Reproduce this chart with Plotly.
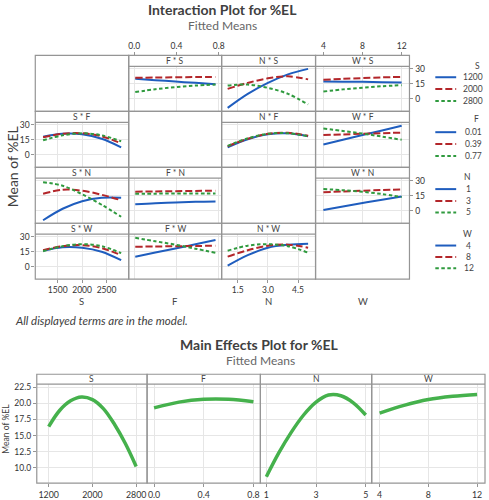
import plotly.graph_objects as go

W_PX, H_PX = 489, 500


def px(x):
    return x / W_PX


def py(y):
    return 1 - y / H_PX


# ---------------- data ----------------
FACTORS = ["S", "F", "N", "W"]
S_levels = ["1200", "2000", "2800"]
F_levels = ["0.01", "0.39", "0.77"]
N_levels = ["1", "3", "5"]
W_levels = ["4", "8", "12"]

S_x = [1200, 1600, 2000, 2400, 2800]
F_x = [0.01, 0.20, 0.39, 0.58, 0.77]
N_x = [1, 2, 3, 4, 5]
W_x = [4, 6, 8, 10, 12]

# interaction fitted means: <x factor>_by_<legend factor>
F_by_S = {"1200": [20.0, 18.7, 17.3, 16.0, 14.5],
          "2000": [21.0, 21.3, 21.6, 21.8, 21.9],
          "2800": [6.8, 9.6, 11.8, 13.3, 14.3]}
N_by_S = {"1200": [-9.0, 5.0, 16.0, 24.5, 30.0],
          "2000": [10.0, 16.0, 20.5, 22.5, 19.5],
          "2800": [13.3, 14.3, 11.0, 5.0, -5.5]}
W_by_S = {"1200": [17.3, 17.2, 17.0, 16.7, 16.3],
          "2000": [19.0, 20.0, 20.8, 21.5, 22.0],
          "2800": [7.3, 9.5, 11.2, 12.6, 13.7]}

S_by_F = {"0.01": [18.0, 21.0, 20.5, 16.0, 7.5],
          "0.39": [17.5, 21.0, 21.5, 18.5, 11.5],
          "0.77": [14.5, 19.5, 21.5, 19.5, 13.5]}
N_by_F = {"0.01": [7.5, 15.5, 20.5, 21.5, 18.5],
          "0.39": [8.5, 16.0, 21.0, 22.0, 19.0],
          "0.77": [9.0, 16.5, 21.0, 21.5, 18.5]}
W_by_F = {"0.01": [10.3, 15.0, 19.7, 24.3, 29.0],
          "0.39": [19.7, 20.4, 21.0, 21.6, 22.2],
          "0.77": [26.2, 23.8, 21.2, 18.2, 15.0]}

S_by_N = {"1": [-9.5, 2.0, 9.5, 13.0, 13.0],
          "3": [17.0, 21.0, 20.0, 16.0, 10.5],
          "5": [28.5, 25.0, 16.5, 6.0, -6.0]}
F_by_N = {"1": [6.4, 7.5, 8.3, 8.9, 9.2],
          "3": [19.0, 19.3, 19.6, 19.8, 20.0],
          "5": [17.0, 17.1, 17.2, 17.2, 17.2]}
W_by_N = {"1": [0.7, 4.3, 7.8, 11.1, 14.3],
          "3": [18.5, 19.3, 20.0, 20.7, 21.4],
          "5": [21.7, 20.5, 19.0, 16.7, 13.7]}

S_by_W = {"4": [16.0, 19.5, 19.0, 15.0, 6.5],
          "8": [16.5, 20.5, 21.5, 18.5, 11.5],
          "12": [15.5, 20.5, 22.5, 20.5, 13.5]}
F_by_W = {"4": [9.9, 14.1, 18.2, 22.4, 26.6],
          "8": [19.9, 20.2, 20.4, 20.7, 20.9],
          "12": [28.8, 25.4, 22.0, 18.0, 13.8]}
N_by_W = {"4": [1.0, 11.5, 19.0, 22.0, 23.0],
          "8": [10.0, 16.5, 21.0, 22.0, 19.0],
          "12": [16.0, 21.0, 22.5, 20.5, 14.0]}

# main effects fitted means
ME_S_x = [1200, 1400, 1600, 1800, 2000, 2200, 2400, 2600, 2800]
ME_S_y = [16.4, 18.9, 20.4, 21.0, 20.6, 19.2, 16.8, 13.8, 10.2]
ME_F_x = [0.0, 0.2, 0.4, 0.6, 0.8]
ME_F_y = [19.3, 20.2, 20.65, 20.65, 20.25]
ME_N_x = [1, 1.5, 2, 2.5, 3, 3.5, 4, 4.5, 5]
ME_N_y = [8.6, 12.3, 15.5, 18.2, 20.2, 21.3, 21.2, 20.1, 18.2]
ME_W_x = [4, 6, 8, 10, 12]
ME_W_y = [18.5, 19.7, 20.6, 21.1, 21.4]

# ---------------- lookup ----------------
LEVELS = {"S": S_levels, "F": F_levels, "N": N_levels, "W": W_levels}
X_GRID = {"S": S_x, "F": F_x, "N": N_x, "W": W_x}
PANELS = {
    ("F", "S"): F_by_S, ("N", "S"): N_by_S, ("W", "S"): W_by_S,
    ("S", "F"): S_by_F, ("N", "F"): N_by_F, ("W", "F"): W_by_F,
    ("S", "N"): S_by_N, ("F", "N"): F_by_N, ("W", "N"): W_by_N,
    ("S", "W"): S_by_W, ("F", "W"): F_by_W, ("N", "W"): N_by_W,
}
ME = {"S": (ME_S_x, ME_S_y), "F": (ME_F_x, ME_F_y),
      "N": (ME_N_x, ME_N_y), "W": (ME_W_x, ME_W_y)}

X_RANGE = {"S": [1040, 2955], "F": [-0.052, 0.828], "N": [0.7, 5.37], "W": [3.2, 12.8]}
X_TICKS = {"S": ([1500, 2000, 2500], ["1500", "2000", "2500"]),
           "F": ([0, 0.4, 0.8], ["0.0", "0.4", "0.8"]),
           "N": ([1.5, 3.0, 4.5], ["1.5", "3.0", "4.5"]),
           "W": ([4, 8, 12], ["4", "8", "12"])}
ME_RANGE = {"S": [982, 3000], "F": [-0.056, 0.856], "N": [0.76, 5.24], "W": [3.35, 12.65]}
ME_TICKS = {"S": ([1200, 2000, 2800], ["1200", "2000", "2800"]),
            "F": ([0, 0.4, 0.8], ["0.0", "0.4", "0.8"]),
            "N": ([1, 3, 5], ["1", "3", "5"]),
            "W": ([4, 8, 12], ["4", "8", "12"])}

# ---------------- styles ----------------
FONT = "Lato"
TXT = "#333333"
FRAME = "#959595"
GRID = "#e6e6e6"
BLUE, RED, GREEN = "#1F5DBE", "#B3262A", "#2F9A3E"
ME_GREEN = "#45B14C"
STYLES = [(BLUE, "solid"), (RED, "7px,3px"), (GREEN, "3.5px,2.5px")]

COL_X = [35.5, 129.5, 223, 317.5, 412]
ROW_Y = [54, 110.5, 167, 223.5, 280]
STRIP = 11
ME_COL = [37, 148, 262, 374, 488]
ME_TOP, ME_STRIP, ME_BOT = 376, 386, 486

fig = go.Figure()
shapes, annotations, layout_axes = [], [], {}


def frame_rect(x0, y0, x1, y1):
    shapes.append(dict(type="rect", xref="paper", yref="paper",
                       x0=px(x0), x1=px(x1), y0=py(y1), y1=py(y0),
                       line=dict(color=FRAME, width=1.2), layer="above"))


def hline(x0, x1, y):
    shapes.append(dict(type="line", xref="paper", yref="paper",
                       x0=px(x0), x1=px(x1), y0=py(y), y1=py(y),
                       line=dict(color=FRAME, width=1.2), layer="above"))


def text(x, y, s, size, color=TXT, xanchor="center", angle=0, italic=False):
    annotations.append(dict(xref="paper", yref="paper", x=px(x), y=py(y),
                            text=s, showarrow=False, xanchor=xanchor, yanchor="middle",
                            textangle=angle,
                            font=dict(family=FONT, size=size, color=color,
                                      style="italic" if italic else "normal")))


def axname(k, letter):
    return f"{letter}axis" if k == 1 else f"{letter}axis{k}"


def ref(k, letter):
    return letter if k == 1 else f"{letter}{k}"


k = 0
for r, lf in enumerate(FACTORS):
    for c, xf in enumerate(FACTORS):
        x0, x1 = COL_X[c], COL_X[c + 1]
        y0, y1 = ROW_Y[r], ROW_Y[r + 1]
        frame_rect(x0, y0, x1, y1)
        if r == c:
            continue
        k += 1
        top = y0 + STRIP
        hline(x0, x1, top)
        text((x0 + x1) / 2, y0 + STRIP / 2, f"{xf} * {lf}", 8.5, color="#444444")
        tv, tt = X_TICKS[xf]
        xa = dict(domain=[px(x0), px(x1)], range=X_RANGE[xf], tickvals=tv, ticktext=tt,
                  showgrid=True, gridcolor=GRID, gridwidth=1, zeroline=False,
                  showline=False, ticks="", showticklabels=False,
                  anchor=ref(k, "y"), fixedrange=True,
                  tickfont=dict(family=FONT, size=8.5, color=TXT))
        if xf in ("S", "N") and r == 3:
            xa.update(showticklabels=True, ticks="outside", ticklen=3, tickcolor=FRAME)
        if xf in ("F", "W") and r == 0:
            xa.update(showticklabels=True, ticks="outside", ticklen=3, tickcolor=FRAME,
                      side="top", anchor="free", position=py(ROW_Y[0]))
        ya = dict(domain=[py(y1), py(top)], range=[-12.5, 32.5], tickvals=[0, 15, 30],
                  showgrid=True, gridcolor=GRID, gridwidth=1, zeroline=False,
                  showline=False, ticks="", showticklabels=False,
                  anchor=ref(k, "x"), fixedrange=True,
                  tickfont=dict(family=FONT, size=8.5, color=TXT))
        if lf in ("F", "W") and c == 0:
            ya.update(showticklabels=True, ticks="outside", ticklen=3, tickcolor=FRAME)
        if lf in ("S", "N") and c == 3:
            ya.update(showticklabels=True, ticks="outside", ticklen=3, tickcolor=FRAME,
                      side="right")
        layout_axes[axname(k, "x")] = xa
        layout_axes[axname(k, "y")] = ya
        data = PANELS[(xf, lf)]
        for i, lev in enumerate(LEVELS[lf]):
            col, dash = STYLES[i]
            fig.add_trace(go.Scatter(
                x=X_GRID[xf], y=data[lev], mode="lines",
                line=dict(color=col, dash=dash, width=2, shape="spline", smoothing=1),
                xaxis=ref(k, "x"), yaxis=ref(k, "y"), showlegend=False,
                hoverinfo="skip"))

# axis titles of interaction plot
for c, f in enumerate(FACTORS):
    text((COL_X[c] + COL_X[c + 1]) / 2, 303, f, 9.5, color="#444444")

# legends (manual, Minitab style)
LEG = [("S", 65, [76, 88, 100], 480, 476),
       ("F", 118, [131.5, 143.5, 155.5], 479, 476),
       ("N", 177, [189, 201, 212.5], 470, 471.5),
       ("W", 234, [246, 257.5, 269], 470, 471.5)]
for f, ty, ys, tx, lx in LEG:
    text(tx, ty, f, 8.5, color="#444444")
    for i, lev in enumerate(LEVELS[f]):
        col, dash = STYLES[i]
        shapes.append(dict(type="line", xref="paper", yref="paper",
                           x0=px(438), x1=px(459), y0=py(ys[i]), y1=py(ys[i]),
                           line=dict(color=col, width=2, dash=dash)))
        text(lx, ys[i], lev, 8.5, color="#444444")

# main effects
for c, f in enumerate(FACTORS):
    k += 1
    x0, x1 = ME_COL[c], ME_COL[c + 1]
    frame_rect(x0, ME_TOP, x1, ME_BOT)
    hline(x0, x1, ME_STRIP)
    text((x0 + x1) / 2, (ME_TOP + ME_STRIP) / 2, f, 8.5, color="#444444")
    tv, tt = ME_TICKS[f]
    layout_axes[axname(k, "x")] = dict(
        domain=[px(x0), px(x1)], range=ME_RANGE[f], tickvals=tv, ticktext=tt,
        showgrid=True, gridcolor=GRID, zeroline=False, showline=False,
        ticks="outside", ticklen=3, tickcolor=FRAME, anchor=ref(k, "y"),
        fixedrange=True, tickfont=dict(family=FONT, size=8.8, color=TXT))
    layout_axes[axname(k, "y")] = dict(
        domain=[py(ME_BOT), py(ME_STRIP)], range=[7.6, 23.0],
        tickvals=[10, 12.5, 15, 17.5, 20, 22.5], tickformat=".1f",
        showgrid=True, gridcolor=GRID, zeroline=False, showline=False,
        ticks="outside" if c == 0 else "", ticklen=3, tickcolor=FRAME,
        showticklabels=(c == 0), anchor=ref(k, "x"), fixedrange=True,
        tickfont=dict(family=FONT, size=8.5, color=TXT))
    mx, my = ME[f]
    fig.add_trace(go.Scatter(
        x=mx, y=my, mode="lines",
        line=dict(color=ME_GREEN, width=3.5, shape="spline", smoothing=1),
        xaxis=ref(k, "x"), yaxis=ref(k, "y"), showlegend=False, hoverinfo="skip"))

# titles and notes
text(224, 8, "<b>Interaction Plot for %EL</b>", 14, color="#404040")
text(224, 23.5, "Fitted Means", 12, color="#666666")
text(12, 166, "Mean of %EL", 14, color="#404040", angle=-90)
text(13, 322, "All displayed terms are in the model.", 11.5, color="#404040",
     xanchor="left", italic=True)
text(261, 346, "<b>Main Effects Plot for %EL</b>", 14, color="#404040")
text(262, 362, "Fitted Means", 12, color="#666666")
text(6, 431, "Mean of %EL", 8.5, color="#404040", angle=-90)

fig.update_layout(
    width=W_PX, height=H_PX, margin=dict(l=0, r=0, t=0, b=0),
    paper_bgcolor="white", plot_bgcolor="white",
    showlegend=False, shapes=shapes, annotations=annotations,
    font=dict(family=FONT, color=TXT), **layout_axes)

fig.write_html("out.html", config={"displayModeBar": False},
               post_script="document.body.style.margin='0';"
                           "document.body.style.overflow='hidden';")
